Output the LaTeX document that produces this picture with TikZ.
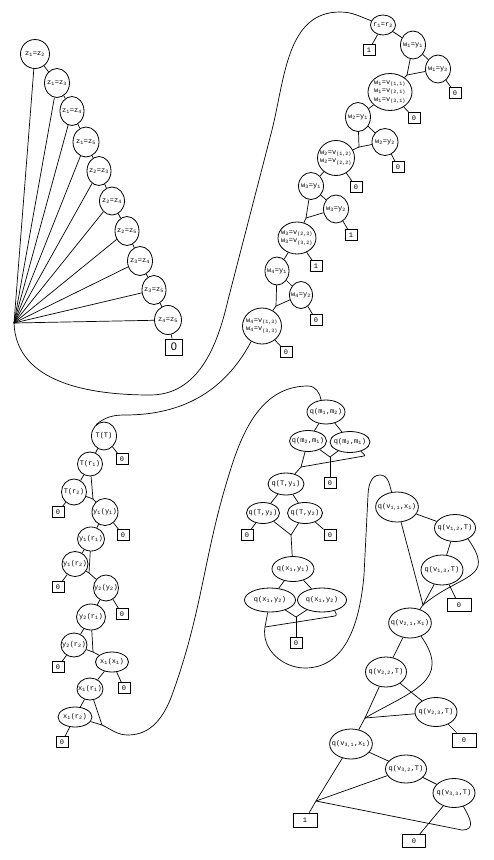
\documentclass[tikz,border=0pt]{standalone}
\usepackage{fontspec}
\setmainfont{Liberation Serif}
\setmonofont{Liberation Mono}
\setsansfont{Liberation Sans}
\usetikzlibrary{shapes.geometric, positioning}
\newcommand{\dn}[1]{\textsubscript{#1}}

\begin{document}
\begin{tikzpicture}[
    x=1pt, y=-1pt,
    line width=0.7pt,
    bnode/.style={ellipse, draw, line width=0.8pt, inner xsep=-4pt, inner ysep=0pt, align=center, font=\ttfamily\fontsize{7}{8.5}\selectfont},
    sz/.style 2 args={minimum width=#1pt, minimum height=#2pt},
    term/.style={rectangle, draw, line width=0.8pt, inner sep=0pt, minimum width=12pt, minimum height=11pt, font=\ttfamily\fontsize{7}{7}\selectfont},
    wideterm/.style={term, minimum width=24pt, minimum height=14pt},
    bigterm/.style={term, minimum width=17pt, minimum height=16pt, font=\sffamily\fontsize{11}{12}\selectfont},
]
\useasboundingbox (0,0) rectangle (493,860);

% ============ Z CHAIN (top left) ============
\node[bnode, sz={29}{29}] (z12) at (35,54) {z\dn{1}=z\dn{2}};
\node[bnode, sz={25}{29}] (z13) at (57,83) {z\dn{1}=z\dn{3}};
\node[bnode, sz={24}{29}] (z14) at (72,111) {z\dn{1}=z\dn{4}};
\node[bnode, sz={26}{30}] (z15) at (86,142) {z\dn{1}=z\dn{5}};
\node[bnode, sz={24}{29}] (z23) at (99,171) {z\dn{2}=z\dn{3}};
\node[bnode, sz={25}{28}] (z24) at (112,201) {z\dn{2}=z\dn{4}};
\node[bnode, sz={24}{29}] (z25) at (127,231) {z\dn{2}=z\dn{5}};
\node[bnode, sz={25}{29}] (z34) at (140,261) {z\dn{3}=z\dn{4}};
\node[bnode, sz={24}{29}] (z35) at (154,290) {z\dn{3}=z\dn{5}};
\node[bnode, sz={27}{29}] (z45) at (168,320) {z\dn{4}=z\dn{5}};
\node[bigterm] (zzero) at (174,347) {0};
\coordinate (zfan) at (14,323);

% chain
\draw (z12) -- (z13);
\draw (z13) -- (z14);
\draw (z14) -- (z15);
\draw (z15) -- (z23);
\draw (z23) -- (z24);
\draw (z24) -- (z25);
\draw (z25) -- (z34);
\draw (z34) -- (z35);
\draw (z35) -- (z45);
\draw (z45) -- (zzero);

% fan
\draw (z12) -- (zfan);
\draw (z13) -- (zfan);
\draw (z14) -- (zfan);
\draw (z15) -- (zfan);
\draw (z23) -- (zfan);
\draw (z24) -- (zfan);
\draw (z25) -- (zfan);
\draw (z34) -- (zfan);
\draw (z35) -- (zfan);
\draw (z45) -- (zfan);

% ============ W CHAIN (top right) ============
\node[bnode, sz={25}{20}] (r12) at (383,25) {r\dn{1}=r\dn{2}};
\node[term] (r12one) at (369,50) {1};
\node[bnode, sz={25}{28}] (w1y1) at (413,45) {w\dn{1}=y\dn{1}};
\node[bnode, sz={25}{28}] (w1y2) at (438,69) {w\dn{1}=y\dn{2}};
\node[term] (w1y2zero) at (455,93) {0};
\coordinate (w1j) at (407,75);
\node[bnode, sz={44}{37}] (w1v) at (390,92) {w\dn{1}=v\dn{(1,1)}\\w\dn{1}=v\dn{(2,1)}\\w\dn{1}=v\dn{(3,1)}};
\node[term] (w1vzero) at (414,118) {0};

\node[bnode, sz={25}{29}] (w2y1) at (358,117) {w\dn{2}=y\dn{1}};
\node[bnode, sz={26}{27}] (w2y2) at (385,142) {w\dn{2}=y\dn{2}};
\node[term] (w2y2zero) at (398,167) {0};
\coordinate (w2j) at (359,147);
\node[bnode, sz={37}{35}] (w2v) at (336,158) {w\dn{2}=v\dn{(1,2)}\\w\dn{2}=v\dn{(2,2)}};
\node[term] (w2vzero) at (356,187) {0};

\node[bnode, sz={25}{27}] (w3y1) at (311,186) {w\dn{3}=y\dn{1}};
\node[bnode, sz={25}{28}] (w3y2) at (336,209) {w\dn{3}=y\dn{2}};
\node[term] (w3y2one) at (351,235) {1};
\coordinate (w3j) at (306,218);
\node[bnode, sz={38}{32}] (w3v) at (297,238) {w\dn{3}=v\dn{(2,3)}\\w\dn{3}=v\dn{(3,2)}};
\node[term] (w3vone) at (316,266) {1};

\node[bnode, sz={24}{28}] (w4y1) at (277,271) {w\dn{4}=y\dn{1}};
\node[bnode, sz={23}{27}] (w4y2) at (301,295) {w\dn{4}=y\dn{2}};
\node[term] (w4y2zero) at (316,320) {0};
\coordinate (w4j) at (276,306);
\node[bnode, sz={39}{36}] (w4v) at (262,326) {w\dn{4}=v\dn{(1,3)}\\w\dn{4}=v\dn{(3,3)}};
\node[term] (w4vzero) at (286,352) {0};

\draw (r12) -- (r12one);
\draw (r12) -- (w1y1);
\draw (w1y1) -- (w1y2);
\draw (w1y2) -- (w1y2zero);
\draw (w1y1) -- (w1j);
\draw (w1y2) -- (w1j);
\draw (w1j) -- (w1v);
\draw (w1v) -- (w1vzero);
\draw (w1v) -- (w2y1);
\draw (w2y1) -- (w2y2);
\draw (w2y2) -- (w2y2zero);
\draw (w2y1) -- (w2j);
\draw (w2y2) -- (w2j);
\draw (w2j) -- (w2v);
\draw (w2v) -- (w2vzero);
\draw (w2v) -- (w3y1);
\draw (w3y1) -- (w3y2);
\draw (w3y2) -- (w3y2one);
\draw (w3y1) -- (w3j);
\draw (w3y2) -- (w3j);
\draw (w3j) -- (w3v);
\draw (w3v) -- (w3vone);
\draw (w3v) -- (w4y1);
\draw (w4y1) -- (w4y2);
\draw (w4y2) -- (w4y2zero);
\draw (w4y1) -- (w4j);
\draw (w4y2) -- (w4j);
\draw (w4j) -- (w4v);
\draw (w4v) -- (w4vzero);

% ============ T / Y / X CHAIN (bottom left) ============
\node[bnode, sz={25}{28}] (TT) at (104,436) {T(T)};
\node[term] (TTzero) at (122,459) {0};
\node[bnode, sz={25}{24}] (Tr1) at (90,464) {T(r\dn{1})};
\node[bnode, sz={25}{26}] (Tr2) at (74,492) {T(r\dn{2})};
\node[term] (Tr2zero) at (58,512) {0};
\coordinate (Tj) at (93,499);

\node[bnode, sz={26}{27}] (y1y1) at (105,512) {y\dn{1}(y\dn{1})};
\node[term] (y1y1zero) at (123,535) {0};
\node[bnode, sz={27}{24}] (y1r1) at (91,539) {y\dn{1}(r\dn{1})};
\node[bnode, sz={26}{25}] (y1r2) at (75,564) {y\dn{1}(r\dn{2})};
\node[term] (y1r2zero) at (58,587) {0};
\coordinate (y1j) at (89,573);

\node[bnode, sz={25}{26}] (y2y2) at (106,588) {y\dn{2}(y\dn{2})};
\node[term] (y2y2zero) at (122,614) {0};
\node[bnode, sz={29}{26}] (y2r1) at (91,617) {y\dn{2}(r\dn{1})};
\node[bnode, sz={26}{24}] (y2r2) at (74,645) {y\dn{2}(r\dn{2})};
\node[term] (y2r2zero) at (58,667) {0};
\coordinate (y2j) at (93,652);

\node[bnode, sz={33}{20}] (x1x1) at (112,662) {x\dn{1}(x\dn{1})};
\node[term] (x1x1zero) at (124,688) {0};
\node[bnode, sz={26}{22}] (x1r1) at (90,689) {x\dn{1}(r\dn{1})};
\node[bnode, sz={34}{20}] (x1r2) at (75,717) {x\dn{1}(r\dn{2})};
\node[term] (x1r2zero) at (62,742) {0};
\coordinate (x1j) at (102,725);

\draw (TT) -- (TTzero);
\draw (TT) -- (Tr1);
\draw (Tr1) -- (Tr2);
\draw (Tr2) -- (Tr2zero);
\draw (Tr1) -- (Tj);
\draw (Tr2) -- (Tj);
\draw (Tj) -- (y1y1);
\draw (y1y1) -- (y1y1zero);
\draw (y1y1) -- (y1r1);
\draw (y1r1) -- (y1r2);
\draw (y1r2) -- (y1r2zero);
\draw (y1r1) -- (y1j);
\draw (y1r2) -- (y1j);
\draw (y1j) -- (y2y2);
\draw (y2y2) -- (y2y2zero);
\draw (y2y2) -- (y2r1);
\draw (y2r1) -- (y2r2);
\draw (y2r2) -- (y2r2zero);
\draw (y2r1) -- (y2j);
\draw (y2r2) -- (y2j);
\draw (y2j) -- (x1x1);
\draw (x1x1) -- (x1x1zero);
\draw (x1x1) -- (x1r1);
\draw (x1r1) -- (x1r2);
\draw (x1r2) -- (x1r2zero);
\draw (x1r1) -- (x1j);
\draw (x1r2) -- (x1j);

% ============ Q(M, T, X) BLOCK (middle) ============
\node[bnode, sz={38}{24}] (qm12) at (326,412) {q(m\dn{1},m\dn{2})};
\node[bnode, sz={37}{21}] (qm21a) at (308,441) {q(m\dn{2},m\dn{1})};
\node[bnode, sz={40}{21}] (qm21b) at (350,442) {q(m\dn{2},m\dn{1})};
\coordinate (qj1) at (330,457);
\coordinate (qj2) at (301,467);
\coordinate (qhk1) at (364,456);
\node[term] (qmzero) at (330,483) {0};

\node[bnode, sz={36}{22}] (qT1) at (286,484) {q(T,y\dn{1})};
\node[bnode, sz={33}{21}] (qT2a) at (263,513) {q(T,y\dn{2})};
\node[bnode, sz={35}{21}] (qT2b) at (305,513) {q(T,y\dn{2})};
\node[term] (qT2azero) at (247,535) {0};
\node[term] (qT2bzero) at (330,535) {0};
\coordinate (qj3) at (291,535);

\node[bnode, sz={42}{25}] (qx1) at (293,569) {q(x\dn{1},y\dn{1})};
\node[bnode, sz={51}{24}] (qx2a) at (270,600) {q(x\dn{1},y\dn{2})};
\node[bnode, sz={49}{24}] (qx2b) at (322,600) {q(x\dn{1},y\dn{2})};
\coordinate (qj4) at (296,617);
\coordinate (qj5) at (265,627);
\coordinate (qhk2) at (335,616);
\node[term] (qxzero) at (296,643) {0};

\draw (qm12) -- (qm21a);
\draw (qm12) -- (qm21b);
\draw (qm21a) -- (qj1);
\draw (qm21b) -- (qj1);
\draw (qj1) -- (qmzero);
\draw (qm21a) -- (qj2);
\draw (qm21b.-40) to[out=-45,in=0] (qhk1) -- (qj2);
\draw (qj2) -- (qT1);
\draw (qT1) -- (qT2a);
\draw (qT1) -- (qT2b);
\draw (qT2a) -- (qT2azero);
\draw (qT2b) -- (qT2bzero);
\draw (qT2a) -- (qj3);
\draw (qT2b) -- (qj3);
\draw (qj3) -- (qx1);
\draw (qx1) -- (qx2a);
\draw (qx1) -- (qx2b);
\draw (qx2a) -- (qj4);
\draw (qx2b) -- (qj4);
\draw (qj4) -- (qxzero);
\draw (qx2a) -- (qj5);
\draw (qx2b.-40) to[out=-45,in=0] (qhk2) -- (qj5);

% ============ Q(V) BLOCK (right) ============
\node[bnode, sz={41}{30}] (qv11) at (397,507) {q(v\dn{1,1},x\dn{1})};
\node[bnode, sz={41}{27}] (qv12) at (455,528) {q(v\dn{1,2},T)};
\node[bnode, sz={42}{30}] (qv13) at (442,570) {q(v\dn{1,3},T)};
\node[wideterm, minimum height=13pt] (qv13zero) at (459,605) {0};
\coordinate (vj1) at (423,605);

\node[bnode, sz={41}{30}] (qv21) at (410,623) {q(v\dn{2,1},x\dn{1})};
\node[bnode, sz={41}{30}] (qv22) at (386,672) {q(v\dn{2,2},T)};
\node[bnode, sz={42}{29}] (qv23) at (436,712) {q(v\dn{2,3},T)};
\node[wideterm] (qv23zero) at (464,740) {0};
\coordinate (vj2) at (365,718);

\node[bnode, sz={42}{30}] (qv31) at (351,744) {q(v\dn{3,1},x\dn{1})};
\node[bnode, sz={41}{28}] (qv32) at (406,769) {q(v\dn{3,2},T)};
\node[bnode, sz={42}{29}] (qv33) at (454,793) {q(v\dn{3,3},T)};
\node[wideterm, minimum width=23pt, minimum height=13pt] (qv33zero) at (414,841) {0};
\node[wideterm] (qvone) at (305,820) {1};
\coordinate (vj3) at (316,801);
\coordinate (vhk3) at (462,830);

\draw (qv11) -- (qv12);
\draw (qv12) -- (qv13);
\draw (qv13) -- (qv13zero);
\draw (qv11) -- (vj1);
\draw (qv13) -- (vj1);
\draw (qv12.-40) to[out=-55,in=40,looseness=1.6] (vj1);
\draw (vj1) -- (qv21);
\draw (qv21) -- (qv22);
\draw (qv22) -- (qv23);
\draw (qv23) -- (qv23zero);
\draw (qv22) -- (vj2);
\draw (qv23) -- (vj2);
\draw (qv21.-50) to[out=-55,in=30,looseness=1.4] (vj2);
\draw (vj2) -- (qv31);
\draw (qv31) -- (qv32);
\draw (qv32) -- (qv33);
\draw (qv33) -- (qv33zero);
\draw (qv31) -- (vj3);
\draw (qv32) -- (vj3);
\draw (qv33.-55) to[out=-60,in=0,looseness=1.5] (vhk3) -- (vj3);
\draw (vj3) -- (qvone);

% ============ LONG LINKS ============
% z fan to r1=r2
\coordinate (zb1) at (150,395);
\coordinate (zb2) at (228,300);
\coordinate (zb3) at (272,130);
\coordinate (zb4) at (340,12);
\draw (zfan) to[out=-88,in=180] (zb1) to[out=0,in=-103] (zb2) -- (zb3)
    to[out=76,in=180] (zb4) to[out=0,in=160] (r12);

% w4 to T(T)
\coordinate (wb1) at (125,415);
\draw (w4v.235) to[out=-118,in=0] (wb1) to[out=180,in=40] (TT.125);

% x1 to q(m1,m2)
\coordinate (xb1) at (128,735);
\coordinate (xb2) at (172,695);
\coordinate (xb3) at (232,465);
\coordinate (xb4) at (308,386);
\draw (x1j) to[out=-25,in=180] (xb1) to[out=0,in=-110] (xb2) to[out=70,in=-108] (xb3)
    to[out=72,in=180] (xb4) to[out=0,in=100] (qm12.112);

% q(x1,y2) to q(v11,x1)
\coordinate (qb1) at (305,668);
\coordinate (qb2) at (364,575);
\coordinate (qb3) at (368,495);
\coordinate (qb4) at (380,475);
\draw (qj5) to[out=-100,in=180] (qb1) to[out=0,in=-95] (qb2) -- (qb3)
    to[out=88,in=180] (qb4) to[out=0,in=105] (qv11.110);

\end{tikzpicture}
\end{document}
